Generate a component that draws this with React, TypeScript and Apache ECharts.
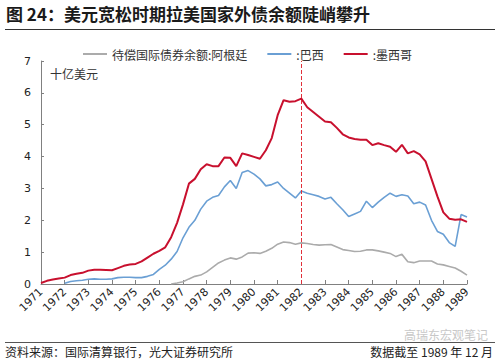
import React, { useEffect, useRef } from "react";
import * as echarts from "echarts";

// Quarterly categories 1971Q1 .. 1989Q1
const years = [1971, 1972, 1973, 1974, 1975, 1976, 1977, 1978, 1979, 1980, 1981, 1982, 1983, 1984, 1985, 1986, 1987, 1988, 1989];
const categories: string[] = [];
years.forEach((y) => {
  const qs = y === 1989 ? ["Q1"] : ["Q1", "Q2", "Q3", "Q4"];
  qs.forEach((q) => categories.push(`${y}${q}`));
});

// 十亿美元
const argentina: (number | null)[] = [
  null, null, null, null, null, null, null, null,
  null, null, null, null, null, null, null, null,
  null, null, null, null, null, null, 0.0, 0.03,
  0.07, 0.16, 0.24, 0.28, 0.38, 0.52, 0.66, 0.75,
  0.82, 0.78, 0.85, 0.97, 0.98, 0.96, 1.03, 1.12,
  1.25, 1.32, 1.3, 1.25, 1.29, 1.27, 1.24, 1.22,
  1.23, 1.24, 1.16, 1.08, 1.05, 1.02, 1.03, 1.07,
  1.07, 1.04, 1.0, 0.96, 0.86, 0.93, 0.7, 0.67,
  0.72, 0.72, 0.72, 0.63, 0.6, 0.55, 0.5, 0.4,
  0.28,
];

const brazil: (number | null)[] = [
  null, null, null, null, 0.02, 0.08, 0.1, 0.12,
  0.15, 0.16, 0.15, 0.15, 0.16, 0.2, 0.21, 0.21,
  0.2, 0.2, 0.24, 0.3, 0.46, 0.59, 0.78, 1.02,
  1.45, 1.78, 2.0, 2.35, 2.6, 2.72, 2.78, 3.05,
  3.25, 3.0, 3.5, 3.56, 3.45, 3.3, 3.08, 3.12,
  3.2, 3.0, 2.85, 2.7, 2.92, 2.85, 2.8, 2.75,
  2.67, 2.72, 2.52, 2.33, 2.12, 2.2, 2.28, 2.6,
  2.4, 2.57, 2.72, 2.85, 2.75, 2.8, 2.76, 2.52,
  2.57, 2.48, 2.0, 1.65, 1.56, 1.3, 1.18, 2.18,
  2.1,
];

const mexico: (number | null)[] = [
  0.03, 0.1, 0.14, 0.17, 0.2, 0.28, 0.32, 0.35,
  0.42, 0.45, 0.45, 0.44, 0.43, 0.5, 0.57, 0.61,
  0.63, 0.71, 0.83, 0.95, 1.04, 1.15, 1.47, 1.92,
  2.5, 3.15, 3.3, 3.6, 3.76, 3.7, 3.7, 3.97,
  3.96, 3.7, 4.1, 4.05, 3.99, 3.93, 4.2, 4.58,
  5.3, 5.77, 5.72, 5.74, 5.82, 5.55, 5.4, 5.25,
  5.1, 5.08, 4.9, 4.7, 4.6, 4.55, 4.53, 4.53,
  4.36, 4.42, 4.36, 4.31, 4.15, 4.37, 4.1, 4.17,
  4.07, 3.85, 3.3, 2.75, 2.25, 2.05, 2.02, 2.03,
  1.95,
];

const seriesNames = ["待偿国际债券余额:阿根廷", ":巴西", ":墨西哥"];
const markCategory = "1982Q1";

const CJK = '"Noto Sans CJK SC", "Noto Sans", sans-serif';
const NUM = '"DejaVu Sans", "Noto Sans", sans-serif';

export default function App() {
  const ref = useRef<HTMLDivElement>(null);
  useEffect(() => {
    if (!ref.current) return;
    const chart = echarts.init(ref.current, null, { renderer: "svg" });
    chart.setOption({
      animation: false,
      backgroundColor: "#ffffff",
      grid: { left: 41, right: 33, top: 61, bottom: 79, containLabel: false },
      legend: {
        left: 78,
        top: 43,
        itemWidth: 24,
        itemHeight: 2,
        itemGap: 20,
        icon: "rect",
        textStyle: { fontFamily: CJK, fontSize: 12, color: "#333" },
        data: seriesNames,
      },
      xAxis: {
        type: "category",
        data: categories,
        boundaryGap: false,
        axisLine: { lineStyle: { color: "#808080", width: 1 } },
        axisTick: {
          inside: true,
          length: 4,
          interval: (i: number) => i % 4 === 0,
          lineStyle: { color: "#808080" },
        },
        axisLabel: {
          interval: (i: number) => i % 4 === 0,
          rotate: 45,
          hideOverlap: false,
          showMinLabel: true,
          showMaxLabel: true,
          fontFamily: NUM,
          fontSize: 11,
          color: "#222",
          margin: 6,
          formatter: (v: string) => v.slice(0, 4),
        },
        splitLine: { show: false },
      },
      yAxis: {
        type: "value",
        min: 0,
        max: 7,
        interval: 1,
        axisLine: { show: true, lineStyle: { color: "#808080", width: 1 } },
        axisTick: { show: true, inside: true, length: 3, lineStyle: { color: "#808080" } },
        axisLabel: { fontFamily: NUM, fontSize: 11, color: "#222", margin: 10 },
        splitLine: { show: false },
      },
      series: [
        {
          name: seriesNames[0],
          type: "line",
          data: argentina,
          showSymbol: false,
          symbol: "none",
          lineStyle: { color: "#ABABAB", width: 1.6 },
          itemStyle: { color: "#ABABAB" },
        },
        {
          name: seriesNames[1],
          type: "line",
          data: brazil,
          showSymbol: false,
          symbol: "none",
          lineStyle: { color: "#6A9FD4", width: 1.6 },
          itemStyle: { color: "#6A9FD4" },
        },
        {
          name: seriesNames[2],
          type: "line",
          data: mexico,
          showSymbol: false,
          symbol: "none",
          lineStyle: { color: "#C8102E", width: 2 },
          itemStyle: { color: "#C8102E" },
          markLine: {
            silent: true,
            symbol: "none",
            label: { show: false },
            lineStyle: { color: "#E0303A", type: "dashed", width: 1 },
            data: [{ xAxis: markCategory }],
          },
        },
      ],
      graphic: [
        {
          type: "text",
          left: 6,
          top: 5,
          style: { text: "图 24：美元宽松时期拉美国家外债余额陡峭攀升", font: `bold 17px ${CJK}`, fill: "#1a1a1a" },
        },
        { type: "line", shape: { x1: 5, y1: 29.5, x2: 495, y2: 29.5 }, style: { stroke: "#333", lineWidth: 1 } },
        {
          type: "text",
          left: 50,
          top: 67,
          style: { text: "十亿美元", font: `12px ${CJK}`, fill: "#333" },
        },
        {
          type: "text",
          right: 12,
          top: 328,
          style: { text: "高瑞东宏观笔记", font: `12px ${CJK}`, fill: "#c8c8c8" },
        },
        { type: "line", shape: { x1: 5, y1: 342.5, x2: 495, y2: 342.5 }, style: { stroke: "#555", lineWidth: 1 } },
        {
          type: "text",
          left: 5,
          top: 345,
          style: { text: "资料来源：国际清算银行，光大证券研究所", font: `12px ${CJK}`, fill: "#222" },
        },
        {
          type: "text",
          right: 7,
          top: 345,
          style: { text: "数据截至 1989 年 12 月", font: `12px ${CJK}`, fill: "#222" },
        },
      ],
    });
    return () => chart.dispose();
  }, []);
  return <div ref={ref} style={{ width: 500, height: 363, position: "absolute", left: 0, top: 0 }} />;
}
